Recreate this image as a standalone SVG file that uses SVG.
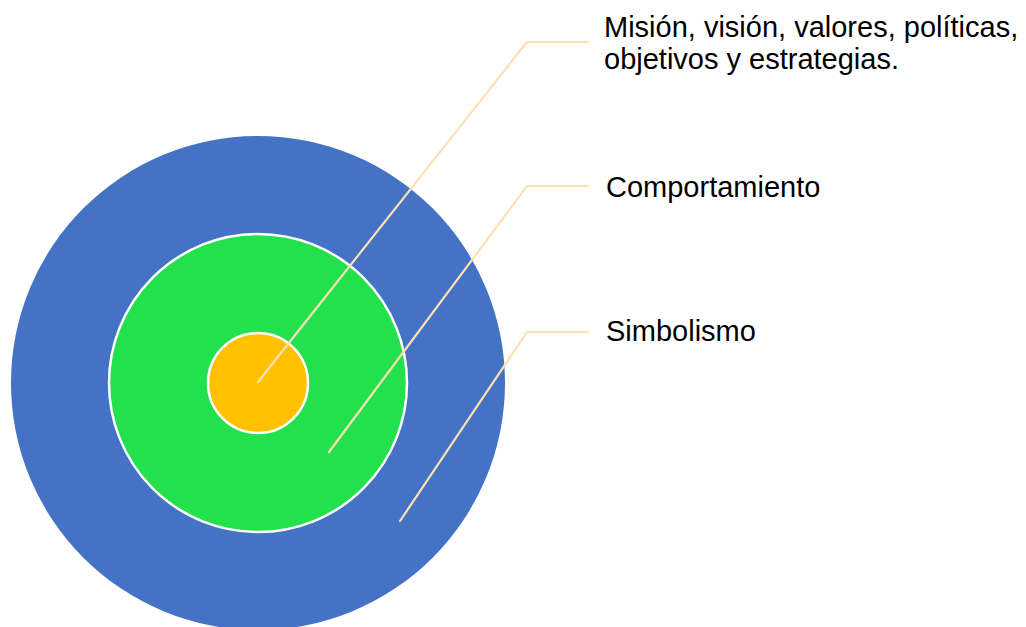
<svg xmlns="http://www.w3.org/2000/svg" width="1026" height="627" viewBox="0 0 1026 627">
<style>
.lbl{font-family:"Liberation Sans",Arial,sans-serif;font-size:29px;fill:#000}
.lead{fill:none;stroke:#FFE0B5;stroke-width:2.2;stroke-linecap:round;stroke-linejoin:round}
.ring{stroke:#fff;stroke-width:2.5}
</style>
<rect width="1026" height="627" fill="#fff"/>
<g id="outer"><circle cx="258" cy="383" r="247" fill="#4472C4"/></g>
<g id="middle"><circle class="ring" cx="258" cy="383" r="149" fill="#23E14D"/></g>
<g id="inner"><circle class="ring" cx="258" cy="383" r="50" fill="#FFC000"/></g>
<g id="connectors">
<polyline class="lead" points="258,382 527,42 588,42"/>
<polyline class="lead" points="329,452 527,186 588,186"/>
<polyline class="lead" points="400,521 527,332 588,332"/>
</g>
<g id="label-mision"><text class="lbl" x="604" y="37">Misión, visión, valores, políticas,</text><text class="lbl" x="604" y="69">objetivos y estrategias.</text></g>
<g id="label-comportamiento"><text class="lbl" x="606" y="197">Comportamiento</text></g>
<g id="label-simbolismo"><text class="lbl" x="606" y="341">Simbolismo</text></g>
</svg>
